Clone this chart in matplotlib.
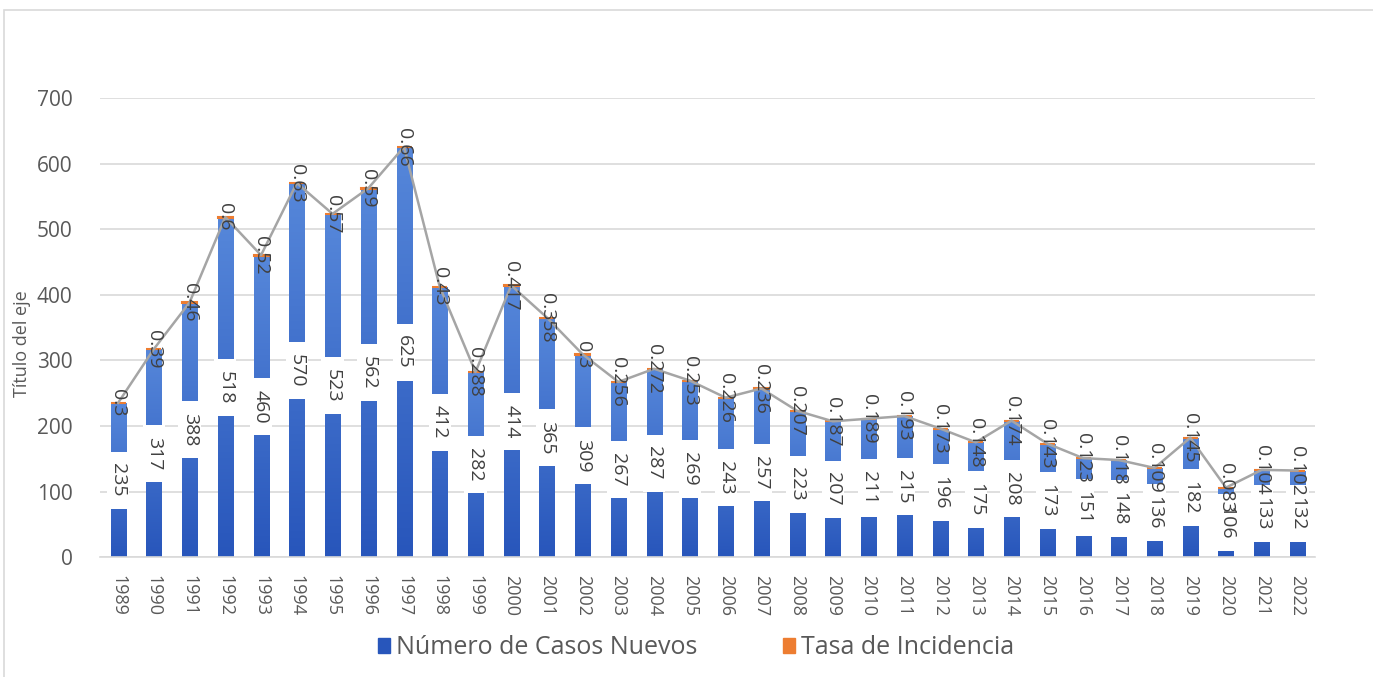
import numpy as np
import matplotlib.pyplot as plt
from matplotlib.colors import LinearSegmentedColormap
from matplotlib.patches import Patch, Rectangle

years = [str(y) for y in range(1989, 2023)]
casos = [235, 317, 388, 518, 460, 570, 523, 562, 625, 412, 282, 414, 365, 309,
         267, 287, 269, 243, 257, 223, 207, 211, 215, 196, 175, 208, 173, 151,
         148, 136, 182, 106, 133, 132]
tasa = [0.3, 0.39, 0.46, 0.6, 0.52, 0.63, 0.57, 0.59, 0.66, 0.43, 0.288, 0.417,
        0.358, 0.3, 0.256, 0.272, 0.253, 0.226, 0.236, 0.207, 0.187, 0.189,
        0.193, 0.173, 0.148, 0.174, 0.143, 0.123, 0.118, 0.109, 0.145, 0.083,
        0.104, 0.102]

plt.rcParams['font.family'] = ['Open Sans', 'DejaVu Sans']

fig = plt.figure(figsize=(13.73, 6.77), dpi=100)
ax = fig.add_axes([0.073, 0.177, 0.885, 0.678])

x = np.arange(len(years))
w = 0.42
casos = np.array(casos)
tasa = np.array(tasa)

# blue bars with vertical gradient (dark at the bottom)
cmap = LinearSegmentedColormap.from_list('azul', ['#2856bb', '#5687da'])
bars = ax.bar(x, casos, width=w, color='none', zorder=2)
grad = np.linspace(0, 1, 100).reshape(-1, 1)
for b in bars:
    bx, by = b.get_x(), b.get_y()
    im = ax.imshow(grad, cmap=cmap, origin='lower', aspect='auto',
                   extent=[bx, bx + b.get_width(), by, by + b.get_height()],
                   zorder=2)
    im.set_clip_path(b)

# orange segment on top (very thin)
ax.bar(x, tasa, bottom=casos, width=w, color='#ed7d31',
       edgecolor='#ed7d31', linewidth=1.5, zorder=3)

# gray line over totals
ax.plot(x, casos + tasa, color='#a5a5a5', linewidth=1.8, zorder=4)

# labels: white box behind the case count, rate label at the bar top
box_h, box_w = 87, 0.62
for xi, c, t in zip(x, casos, tasa):
    ax.add_patch(Rectangle((xi - box_w / 2, c / 2 - box_h / 2), box_w, box_h,
                           facecolor='white', edgecolor='none', zorder=5))
    ax.text(xi, c / 2, str(c), rotation=-90, ha='center', va='center',
            fontsize=14, color='#404040', zorder=6)
    ax.text(xi, c + t, f'{t:g}', rotation=-90, ha='center', va='center',
            fontsize=14, color='#404040', zorder=6)

ax.set_xlim(-0.5, len(years) - 0.5)
ax.set_ylim(0, 700)
ax.set_yticks(range(0, 701, 100))
ax.set_xticks(x)
ax.set_xticklabels(years, rotation=-90)
ax.tick_params(axis='both', length=0, labelcolor='#595959')
ax.tick_params(axis='y', pad=20, labelsize=15)
ax.tick_params(axis='x', pad=13, labelsize=13)
ax.grid(axis='y', color='#d9d9d9', linewidth=1.2, zorder=0)
ax.set_axisbelow(True)
for s in ['top', 'right', 'left']:
    ax.spines[s].set_visible(False)
ax.spines['bottom'].set_color('#d9d9d9')
ax.spines['bottom'].set_linewidth(1.2)

fig.text(0.016, 0.493, 'Título del eje', rotation=90, ha='center', va='center',
         fontsize=13, color='#595959')

handles = [Patch(color='#2856bb'), Patch(color='#ed7d31')]
fig.legend(handles, ['Número de Casos Nuevos', 'Tasa de Incidencia'],
           loc='center', bbox_to_anchor=(0.507, 0.043), ncol=2, frameon=False,
           fontsize=18, labelcolor='#595959', handlelength=0.5,
           handleheight=0.5, handletextpad=0.25, columnspacing=3.4)

# chart area border
fig.add_artist(Rectangle((0.003, -0.1), 1.2, 1.085, transform=fig.transFigure,
                         fill=False, edgecolor='#d9d9d9', linewidth=1.2))

fig.savefig('out.png', dpi=100)
